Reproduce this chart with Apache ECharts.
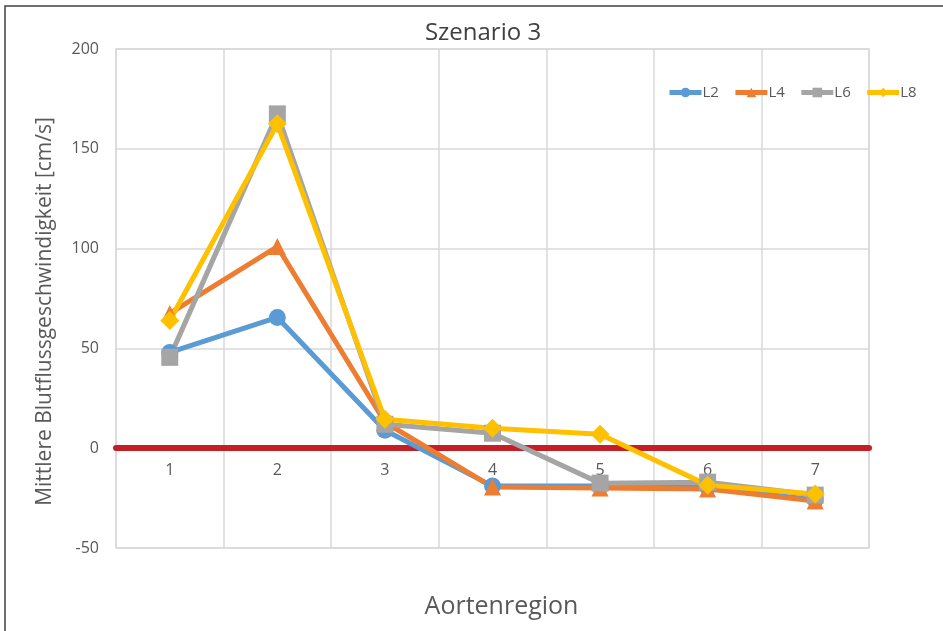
<!DOCTYPE html>
<html>
<head>
<meta charset="utf-8">
<script src="https://cdn.jsdelivr.net/npm/echarts@6/dist/echarts.min.js"></script>
<style>
  html, body { margin: 0; padding: 0; background: #fff; }
  #chart { width: 943px; height: 631px; }
</style>
</head>
<body>
<div id="chart"></div>
<script>
// Daten
var regions = ["1", "2", "3", "4", "5", "6", "7"];
var L2 = [48, 65.5, 9, -19, -19, -19.5, -26];
var L4 = [67.5, 101, 13, -19.5, -20, -20.5, -26.5];
var L6 = [45.5, 167.5, 12, 7.5, -17.5, -17, -23.5];
var L8 = [64, 162.5, 14.5, 10, 7, -18.5, -23];
var yTicks = [-50, 0, 50, 100, 150, 200];

var txt = "#595959";
var font = "Open Sans";

function mkSeries(name, data, color, symbol, size) {
  return {
    name: name,
    type: "line",
    data: data,
    symbol: symbol,
    symbolSize: size,
    lineStyle: { color: color, width: 5 },
    itemStyle: { color: color },
    emphasis: { disabled: true }
  };
}

var chart = echarts.init(document.getElementById("chart"));
chart.setOption({
  animation: false,
  backgroundColor: "#fff",
  textStyle: { fontFamily: font },
  title: {
    text: "Szenario 3",
    left: 478,
    textAlign: "center",
    top: 16,
    textStyle: { color: "#404040", fontSize: 24, fontWeight: "normal", fontFamily: font }
  },
  legend: {
    top: 80,
    left: 662,
    itemWidth: 32,
    itemHeight: 12,
    itemGap: 14,
    lineStyle: { width: 5 },
    textStyle: { color: txt, fontSize: 15, fontFamily: font, padding: [0, 0, 0, -4] },
    data: ["L2", "L4", "L6", "L8"]
  },
  graphic: [{
    type: "rect",
    shape: { x: 5, y: 6, width: 960, height: 660 },
    style: { fill: "none", stroke: "#404040", lineWidth: 1.5 },
    silent: true,
    z: -1
  }],
  grid: {
    left: 116, right: 74, top: 49, bottom: 83,
    containLabel: false,
    outerBoundsMode: "none",
    show: true, borderColor: "#d9d9d9", borderWidth: 1.5
  },
  xAxis: [{
    type: "category",
    data: regions,
    name: "Aortenregion",
    nameLocation: "middle",
    nameGap: 46,
    nameTextStyle: { color: txt, fontSize: 25, fontFamily: font, padding: [0, 0, 0, 18] },
    axisLine: { show: false, onZero: false },
    axisTick: { show: false },
    axisLabel: { show: false },
    splitLine: { show: true, lineStyle: { color: "#d9d9d9", width: 1.5 } }
  }, {
    // Nulllinie mit Beschriftung
    type: "category",
    data: regions,
    position: "bottom",
    offset: -100,
    axisLine: { onZero: false, lineStyle: { color: "#c41e27", width: 6 } },
    axisTick: { show: false },
    axisLabel: { color: txt, fontSize: 16, margin: 14 },
    splitLine: { show: false }
  }],
  yAxis: {
    type: "value",
    min: yTicks[0],
    max: yTicks[yTicks.length - 1],
    interval: 50,
    name: "Mittlere Blutflussgeschwindigkeit [cm/s]",
    nameLocation: "middle",
    nameGap: 60,
    nameTextStyle: { color: txt, fontSize: 21, fontFamily: font, padding: [0, 26, 0, 0] },
    axisLine: { show: false },
    axisTick: { show: false },
    axisLabel: { color: txt, fontSize: 16, margin: 17 },
    splitLine: { lineStyle: { color: "#d9d9d9", width: 1.5 } }
  },
  series: [
    mkSeries("L2", L2, "#5b9bd5", "circle", 17),
    mkSeries("L4", L4, "#ed7d31", "triangle", 17),
    mkSeries("L6", L6, "#a5a5a5", "rect", 17),
    mkSeries("L8", L8, "#ffc000", "diamond", 19)
  ]
});
</script>
</body>
</html>
